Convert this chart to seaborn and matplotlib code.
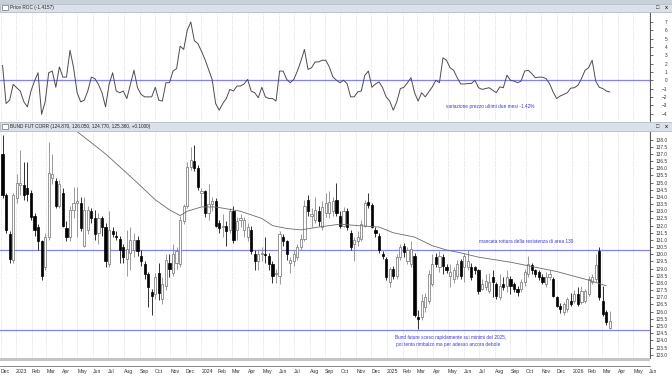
import numpy as np
import pandas as pd
import matplotlib
matplotlib.use("Agg")
import matplotlib.pyplot as plt
import matplotlib.dates as mdates
from matplotlib.patches import Rectangle
import seaborn as sns

# weekly candles of the Bund future (continuous, corrected), first week 5 Dec 2022
first_week = "2022-12-05"
opens = [137.0, 134.1, 131.4, 129.6, 133.9, 134.8, 134.8, 134.6, 134.3, 132.7,
         131.9, 130.9, 129.1, 131.2, 135.3, 135.1, 133.4, 134.3, 131.8, 131.2,
         133.1, 133.6, 133.6, 130.6, 131.7, 133.0, 132.5, 131.5, 132.5, 131.9,
         129.3, 131.6, 131.3, 131.1, 130.5, 129.7, 130.1, 130.3, 131.0, 129.9,
         129.3, 128.6, 127.4, 127.2, 128.7, 126.9, 127.8, 129.4, 128.7, 129.4,
         129.3, 132.3, 133.4, 136.1, 136.5, 136.0, 134.3, 134.4, 132.9, 133.5,
         133.7, 132.15, 131.9, 132.0, 131.7, 133.0, 131.7, 132.4, 131.7, 131.2,
         131.7, 130.0, 129.5, 130.0, 130.0, 129.9, 129.3, 128.6, 128.5, 131.2,
         130.9, 129.4, 129.5, 129.8, 130.5, 131.1, 133.8, 132.7, 132.4, 133.0,
         131.9, 132.85, 132.85, 133.0, 133.8, 132.7, 132.0, 133.0, 131.45, 130.75,
         130.9, 131.1, 132.0, 133.67, 133.44, 131.7, 131.3, 130.05, 129.7, 128.06,
         128.99, 128.5, 129.8, 130.6, 129.5, 129.3, 129.9, 125.6, 125.6, 126.3,
         126.77, 127.9, 129.8, 129.1, 129.8, 129.1, 128.52, 128.3, 128.5, 129.5,
         129.1, 129.1, 129.1, 129.1, 128.9, 127.6, 127.7, 127.47, 128.4, 127.94,
         127.0, 127.94, 127.82, 128.29, 127.94, 127.6, 127.59, 128.06, 128.64, 129.23,
         128.88, 128.76, 128.41, 127.94, 128.41, 128.29, 127.0, 126.42, 125.95, 126.19,
         126.77, 126.77, 127.24, 126.65, 126.77, 127.24, 128.06, 128.29, 130.2, 126.77,
         125.95, 124.87]
highs = [138.3, 134.3, 131.6, 134.3, 135.6, 137.3, 136.4, 136.4, 134.5, 132.9,
         132.1, 131.0, 131.5, 137.8, 137.0, 135.3, 135.2, 134.6, 132.3, 133.4,
         134.7, 134.7, 134.0, 134.0, 133.4, 133.2, 133.1, 132.9, 132.7, 132.2,
         133.0, 131.9, 131.6, 131.3, 130.7, 131.7, 131.9, 131.5, 131.3, 130.3,
         129.5, 128.8, 127.6, 128.7, 129.4, 128.4, 130.0, 130.0, 130.7, 130.5,
         132.7, 133.5, 136.4, 137.5, 137.6, 136.2, 134.6, 134.5, 134.9, 134.0,
         133.9, 132.4, 132.8, 132.3, 133.2, 133.4, 132.6, 132.8, 132.6, 132.2,
         132.0, 130.3, 130.4, 130.5, 131.2, 130.1, 129.5, 129.0, 131.6, 131.4,
         131.0, 129.8, 130.3, 130.7, 131.4, 133.8, 134.1, 133.2, 134.0, 133.4,
         133.7, 134.3, 134.4, 134.0, 135.0, 133.0, 133.3, 133.2, 131.7, 131.2,
         131.6, 132.4, 133.8, 134.3, 133.6, 131.9, 131.5, 130.2, 129.8, 129.1,
         129.2, 130.0, 130.75, 130.8, 130.5, 130.9, 130.1, 126.1, 127.2, 127.3,
         128.9, 130.0, 130.1, 130.2, 130.0, 129.3, 129.3, 129.1, 129.6, 129.7,
         130.1, 130.3, 129.4, 129.2, 129.0, 128.3, 128.6, 128.7, 128.9, 128.1,
         128.6, 128.4, 128.9, 128.5, 128.1, 127.8, 128.3, 129.0, 129.9, 129.4,
         129.0, 128.9, 128.6, 128.8, 128.9, 128.4, 127.1, 126.6, 126.7, 127.0,
         127.3, 127.5, 127.7, 127.8, 127.6, 128.5, 128.6, 130.0, 130.5, 127.8,
         126.1, 126.05]
lows = [133.9, 131.5, 129.4, 129.4, 133.6, 134.1, 133.8, 133.7, 132.4, 131.3,
        130.3, 128.2, 128.9, 131.0, 134.9, 133.2, 133.2, 131.9, 130.9, 130.9,
        132.5, 131.2, 131.6, 130.5, 131.4, 132.2, 131.0, 130.7, 131.3, 129.1,
        129.1, 131.2, 131.0, 129.4, 129.4, 128.5, 128.9, 129.8, 129.9, 129.2,
        128.3, 126.3, 125.8, 126.9, 126.8, 126.5, 127.5, 128.4, 128.5, 129.0,
        129.1, 132.1, 133.2, 135.9, 135.8, 134.5, 133.4, 132.6, 132.4, 133.0,
        131.9, 131.5, 131.2, 130.6, 131.5, 130.8, 131.0, 131.9, 131.2, 130.9,
        130.0, 128.9, 128.9, 129.5, 129.4, 128.9, 128.0, 128.0, 127.9, 130.6,
        129.6, 128.7, 129.2, 129.6, 130.3, 130.9, 132.7, 131.9, 132.15, 132.0,
        131.7, 132.6, 132.5, 132.7, 132.7, 131.8, 131.9, 131.7, 130.3, 129.5,
        130.6, 130.9, 131.9, 133.2, 131.8, 131.2, 130.1, 129.7, 128.2, 127.7,
        128.3, 128.3, 129.6, 129.8, 129.3, 129.1, 125.6, 124.8, 125.4, 126.0,
        126.5, 127.8, 129.1, 128.8, 128.6, 128.7, 127.7, 128.0, 128.3, 128.3,
        128.05, 128.9, 128.2, 128.6, 127.2, 127.5, 127.5, 127.3, 127.0, 126.9,
        126.8, 127.5, 127.4, 127.2, 127.4, 127.1, 127.4, 127.8, 128.4, 128.6,
        128.4, 128.2, 127.9, 127.7, 128.2, 127.0, 126.3, 125.9, 125.8, 126.0,
        126.4, 126.6, 126.4, 126.5, 126.6, 127.1, 127.9, 128.1, 126.8, 125.7,
        125.1, 124.77]
closes = [134.1, 131.7, 129.7, 134.1, 135.0, 135.0, 134.1, 134.2, 132.6, 131.7,
          130.9, 128.5, 131.2, 135.7, 135.6, 133.4, 134.9, 132.0, 131.2, 133.1,
          133.6, 133.7, 131.8, 133.1, 133.1, 132.5, 131.4, 132.5, 131.9, 129.5,
          131.7, 131.4, 131.2, 130.3, 129.8, 130.4, 131.0, 131.0, 130.2, 129.5,
          128.6, 127.7, 127.1, 128.4, 127.3, 127.9, 129.6, 129.0, 130.0, 130.2,
          132.4, 133.4, 136.1, 136.6, 136.0, 134.7, 134.4, 132.85, 133.5, 133.7,
          132.0, 131.8, 132.0, 131.6, 133.0, 131.0, 132.3, 132.5, 132.4, 131.9,
          130.2, 129.5, 130.05, 130.1, 129.95, 129.3, 128.5, 128.7, 131.4, 130.9,
          130.0, 129.6, 130.05, 130.5, 131.1, 133.4, 133.0, 132.8, 133.1, 132.3,
          133.3, 133.55, 133.67, 133.7, 132.85, 132.0, 133.0, 131.9, 130.5, 130.98,
          131.2, 132.1, 133.55, 133.44, 131.9, 131.45, 130.3, 129.9, 128.4, 128.99,
          128.5, 129.8, 130.5, 130.16, 130.3, 130.4, 125.8, 125.5, 126.77, 127.0,
          128.64, 129.3, 129.35, 129.9, 129.2, 128.9, 128.76, 128.9, 129.3, 128.5,
          129.9, 129.5, 128.4, 128.9, 127.47, 127.94, 128.17, 128.06, 128.06, 127.12,
          127.82, 127.71, 128.41, 127.82, 127.59, 127.4, 128.06, 128.76, 129.34, 128.88,
          128.64, 128.41, 128.06, 128.41, 128.64, 127.12, 126.42, 126.19, 126.54, 126.89,
          126.54, 127.24, 126.54, 127.47, 127.47, 128.29, 128.41, 129.23, 127.0, 125.83,
          125.25, 125.36]

# Price ROC (upper panel), one value per week
roc = [1.8, -2.8, -2.4, -0.5, -0.9, -1.3, -2.6, -3.2, -1.3, -0.1,
       0.9, -4.1, -2.6, 0.9, 1.1, -0.85, 1.6, 0.37, 0.37, 3.6,
       1.5, -1.5, -2.6, -2.4, -1.3, 0.37, 0.2, -0.5, -1.5, -3.2,
       -0.5, 0.9, -1.3, -1.5, -1.3, -2.2, -0.5, 1.2, -0.9, -1.7,
       -2.0, -2.0, -2.0, -0.85, -2.4, -2.5, -0.3, -0.3, 1.1, 1.4,
       4.1, 3.7, 6.0, 7.0, 4.75, 4.4, 3.5, 2.5, 1.3, 0.1,
       -2.8, -3.6, -2.8, -2.2, -1.1, -1.3, -0.7, -0.7, -0.45, 0.1,
       -1.3, -1.5, -2.1, -0.85, -2.0, -2.2, -2.2, -2.5, 1.1, 1.1,
       0.1, -0.3, 0.1, 1.1, 2.3, 3.7, 1.3, 1.5, 2.2, 2.2,
       2.4, 2.4, 1.6, 0.4, 0.0, -0.3, 0.0, -0.4, -2.0, -2.0,
       -1.4, -1.3, 0.6, 1.1, -0.85, -0.45, -0.2, -0.9, -2.0, -2.5,
       -3.6, -2.6, -1.0, -0.85, -0.3, 0.3, -1.5, -2.5, -1.5, -2.0,
       -1.4, -0.8, 0.0, -0.3, 2.7, 2.4, 1.5, 1.2, 0.3, -0.45,
       -0.45, -0.4, -0.4, 0.0, -0.9, -1.1, -1.0, -0.9, -1.2, -1.5,
       -0.8, -0.9, 0.6, 0.0, -0.1, -0.3, -0.1, 1.1, 1.2, 0.8,
       0.3, 0.37, 0.37, 0.2, -0.4, -1.4, -2.2, -1.9, -1.7, -1.5,
       -0.95, -0.9, -0.6, 0.2, 1.2, 1.5, 2.4, -0.1, -0.85, -1.0,
       -1.3, -1.42]

# long moving average, read at some weeks (week number from the first candle)
ma_week = [20, 22, 30, 38, 44, 48, 51, 53, 57, 61, 68, 74, 77, 81, 85, 90, 96,
           101, 107, 111, 117, 122, 126, 130, 135, 144, 151, 157, 166, 171]
ma_value = [139.3, 138.55, 137.0, 135.2, 133.8, 133.1, 132.7, 133.0, 133.3, 133.3,
            133.0, 132.5, 132.0, 131.8, 131.7, 131.9, 132.1, 132.0, 131.9, 131.5,
            131.2, 130.6, 130.3, 130.1, 129.8, 129.45, 129.1, 128.8, 128.2, 127.8]

resistance = 130.3
support = 124.75

roc_note = "variazione prezzo ultimi due mesi -1.42%"
res_note = "mancata rottura della resistenza di area 130"
bund_note1 = "Bund future sceso rapidamente sui minimi del 2025,"
bund_note2 = "poi tenta rimbalzo ma per adesso ancora debole"

weeks = pd.date_range(first_week, periods=len(closes), freq="7D")
df = pd.DataFrame({"date": weeks, "open": opens, "high": highs,
                   "low": lows, "close": closes, "roc": roc})
df["up"] = df["close"] >= df["open"]
ma_df = pd.DataFrame({"date": weeks[0] + pd.to_timedelta(np.array(ma_week) - 1, unit="W"),
                      "ma": ma_value})

sns.set_theme(style="white")
plt.rcParams["font.family"] = ["Liberation Sans", "DejaVu Sans"]

W, H = 672, 378
fig = plt.figure(figsize=(W / 100, H / 100), dpi=100)
fig.patch.set_facecolor("white")


def box(x0, y0, x1, y1):
    return [x0 / W, 1 - y1 / H, (x1 - x0) / W, (y1 - y0) / H]


blue_line = "#8484ee"
blue_text = "#3a3ad8"
bar_col = "#dbe1e8"
small = 3.4

# window chrome and panel title bars
fig.patches.append(Rectangle((0, 1 - 3.5 / H), 1, 3.5 / H, transform=fig.transFigure,
                             facecolor="#c9d0d8", edgecolor="none"))
for y0, y1, label in [(3.5, 11.5, "Price ROC (-1.4157)"),
                      (122, 131, "BUND FUT CORR (124.870, 126.050, 124.770, 125.360, +0.1000)")]:
    fig.patches.append(Rectangle((0, 1 - y1 / H), 1, (y1 - y0) / H, transform=fig.transFigure,
                                 facecolor=bar_col, edgecolor="#a9b2bd", linewidth=0.5))
    fig.patches.append(Rectangle((2 / W, 1 - (y1 - 1.8) / H), 6 / W, (y1 - y0 - 3.6) / H,
                                 transform=fig.transFigure, facecolor="white",
                                 edgecolor="#555555", linewidth=0.4))
    fig.text(10 / W, 1 - (y0 + y1) / 2 / H, label, fontsize=small, color="#222222",
             va="center", ha="left")
    for xi, ch in [(656, "\u25a1"), (665, "x")]:
        fig.text(xi / W, 1 - (y0 + y1) / 2 / H, ch, fontsize=4, color="#333333",
                 va="center", ha="left", fontweight="bold")
# separator above the date axis
fig.patches.append(Rectangle((0, 1 - 361 / H), 650 / W, 3 / H, transform=fig.transFigure,
                             facecolor="#c4c4c4", edgecolor="none"))

ax_roc = fig.add_axes(box(0, 12, 650, 121))
ax = fig.add_axes(box(0, 131.5, 650, 358), sharex=ax_roc)
ax_x = fig.add_axes(box(0, 361, 650, 366), sharex=ax_roc)

x_left = weeks[0] - pd.Timedelta(days=5)
x_right = weeks[0] + pd.Timedelta(days=1276)

month_loc = mdates.MonthLocator()

# ---- upper panel: price ROC
sns.lineplot(data=df, x="date", y="roc", ax=ax_roc, color="#4d4d4d", linewidth=0.7)
ax_roc.axhline(0, color=blue_line, linewidth=0.9, zorder=1)
ax_roc.set_ylim(-4.9, 8.2)
ax_roc.set_yticks(range(-4, 8))
ax_roc.text(446 / 650, -3.2, roc_note, transform=ax_roc.get_yaxis_transform(),
            fontsize=small, color=blue_text, va="center", ha="left")

# ---- lower panel: candles, moving average, support/resistance
up = df["up"].to_numpy()
ax.vlines(df["date"], df["low"], df["high"],
          colors=np.where(up, "#8a8a8a", "#111111"), linewidth=0.6, zorder=2)
body = (df["close"] - df["open"]).abs().clip(lower=0.06)
ax.bar(df["date"], body, bottom=df[["open", "close"]].min(axis=1), width=4.3,
       color=np.where(up, "white", "black"), edgecolor=np.where(up, "#6e6e6e", "black"),
       linewidth=0.5, zorder=3)
sns.lineplot(data=ma_df, x="date", y="ma", ax=ax, color="#6a6a6a", linewidth=0.6, zorder=4)
ax.axhline(resistance, color=blue_line, linewidth=0.9, zorder=1)
ax.axhline(support, color=blue_line, linewidth=0.9, zorder=1)
ax.set_ylim(122.77, 138.56)
ax.set_yticks(np.arange(123.0, 138.01, 0.5))
ax.yaxis.set_major_formatter(matplotlib.ticker.FormatStrFormatter("%.1f"))
ax.text(479.5 / 650, 130.9, res_note, transform=ax.get_yaxis_transform(),
        fontsize=small, color=blue_text, va="center", ha="left")
ax.text(395 / 650, 124.17, bund_note1, transform=ax.get_yaxis_transform(),
        fontsize=small, color=blue_text, va="center", ha="left")
ax.text(396 / 650, 123.72, bund_note2, transform=ax.get_yaxis_transform(),
        fontsize=small, color=blue_text, va="center", ha="left")

for a in (ax_roc, ax):
    a.set_facecolor("white")
    a.set_xlabel("")
    a.set_ylabel("")
    a.xaxis.set_major_locator(month_loc)
    a.grid(axis="x", which="major", color="#c6c6c6", linewidth=0.5,
           linestyle=(0, (1, 1.6)))
    a.tick_params(axis="x", which="both", bottom=False, labelbottom=False)
    a.yaxis.tick_right()
    a.tick_params(axis="y", right=True, length=2, width=0.5, colors="#333333",
                  labelsize=small, pad=10.5)
    for lbl in a.get_yticklabels():
        lbl.set_ha("right")
    for side in ("top", "left", "bottom"):
        a.spines[side].set_visible(False)
    a.spines["right"].set_color("#3a3a3a")
    a.spines["right"].set_linewidth(0.6)

# ---- date axis strip
ax_x.set_xlim(x_left, x_right)
ax_x.set_yticks([])
ax_x.set_facecolor("white")
for side in ("top", "left", "right"):
    ax_x.spines[side].set_visible(False)
ax_x.spines["bottom"].set_color("#555555")
ax_x.spines["bottom"].set_linewidth(0.5)
ax_x.xaxis.set_major_locator(month_loc)
ax_x.xaxis.set_minor_locator(mdates.WeekdayLocator(byweekday=mdates.MO))
ax_x.xaxis.set_major_formatter(matplotlib.ticker.FuncFormatter(
    lambda v, pos: mdates.num2date(v).strftime("%Y") if mdates.num2date(v).month == 1
    else mdates.num2date(v).strftime("%b")))
ax_x.tick_params(axis="x", which="major", length=3, width=0.5, direction="inout",
                 colors="#333333", labelsize=3.7, pad=1)
ax_x.tick_params(axis="x", which="minor", length=2, width=0.4, direction="inout",
                 colors="#555555")
fig.canvas.draw()
for lbl in ax_x.get_xticklabels():
    lbl.set_ha("left")

fig.savefig("out.png", dpi=100, facecolor="white")
